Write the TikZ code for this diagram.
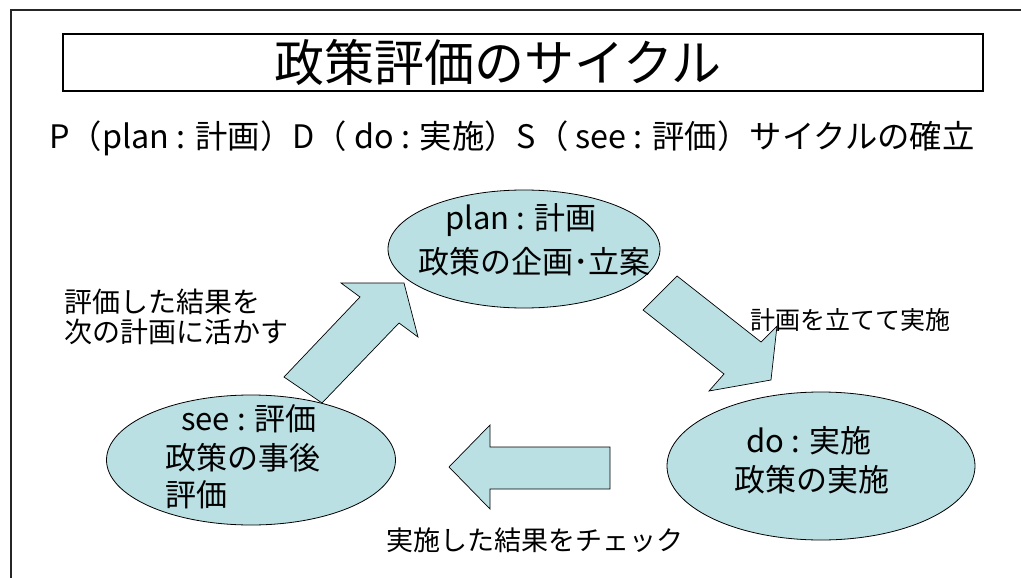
\documentclass[tikz,border=0pt]{standalone}
\usepackage{fontspec}
\setmainfont{Noto Sans CJK JP}
\usetikzlibrary{shapes.geometric}
\definecolor{cyc}{RGB}{187,224,228}
\begin{document}
\begin{tikzpicture}[x=1pt,y=-1pt,
  cell/.style={ellipse,draw=black,line width=0.8pt,fill=cyc,inner sep=0pt},
  blk/.style={draw=black,line width=0.7pt,fill=cyc,line join=miter},
  lbl/.style={inner sep=0pt,font=\fontsize{28}{30}\selectfont,align=left},
  etxt/.style={inner sep=0pt,font=\fontsize{31}{35}\selectfont}]
\useasboundingbox (0,0) rectangle (1021,578);
\fill[white] (0,0) rectangle (1021,578);
\draw[line width=2pt,color=black!85] (1021,10) -- (11,10) -- (11,578);
% title
\node[draw,line width=1.2pt,minimum width=920pt,minimum height=57pt,inner sep=0pt] (titlebox) at (523,62.5) {};
\node[inner sep=0pt,font=\fontsize{50}{52}\selectfont] (title) at (498,62) {政策評価のサイクル};
\node[inner sep=0pt,font=\fontsize{30}{34}\selectfont] (sub) at (512,138)
  {\resizebox{925pt}{!}{P（plan : 計画）D（ do : 実施）S（ see : 評価）サイクルの確立}};
% ellipses
\node[cell,minimum width=272pt,minimum height=118pt] (plan) at (524,249) {};
\node[cell,minimum width=308pt,minimum height=148pt] (do) at (821,466) {};
\node[cell,minimum width=289pt,minimum height=130pt] (see) at (251,460) {};
% ellipse texts
\node[etxt,anchor=west] (plan1) at (445,220) {plan : 計画};
\node[etxt,anchor=west] (plan2) at (418,262) {政策の企画･立案};
\node[etxt,anchor=west] (do1) at (746,441) {do : 実施};
\node[etxt,anchor=west] (do2) at (734,480) {政策の実施};
\node[etxt,anchor=west] (see1) at (181,419) {see : 評価};
\node[etxt,anchor=west] (see2) at (165,458) {政策の事後};
\node[etxt,anchor=west] (see3) at (165,495) {評価};
% block arrows
\draw[blk] (284,377) -- (360,297) -- (341,283) -- (404,283) -- (418,337) -- (399,323) -- (322,403) -- cycle;
\draw[blk] (643,310) -- (724,374) -- (709,391) -- (771,380) -- (777,326) -- (761,342) -- (677,276) -- cycle;
\draw[blk] (449,467) -- (490,425) -- (490,447) -- (610,447) -- (610,489) -- (490,489) -- (490,509) -- cycle;
% labels
\node[lbl,anchor=west] (lab1) at (64,317) {評価した結果を\\次の計画に活かす};
\node[lbl,anchor=west,font=\fontsize{25}{30}\selectfont] (lab2) at (750,320) {計画を立てて実施};
\node[lbl,anchor=west,font=\fontsize{27}{30}\selectfont] (lab3) at (386,540) {実施した結果をチェック};
\end{tikzpicture}
\end{document}
